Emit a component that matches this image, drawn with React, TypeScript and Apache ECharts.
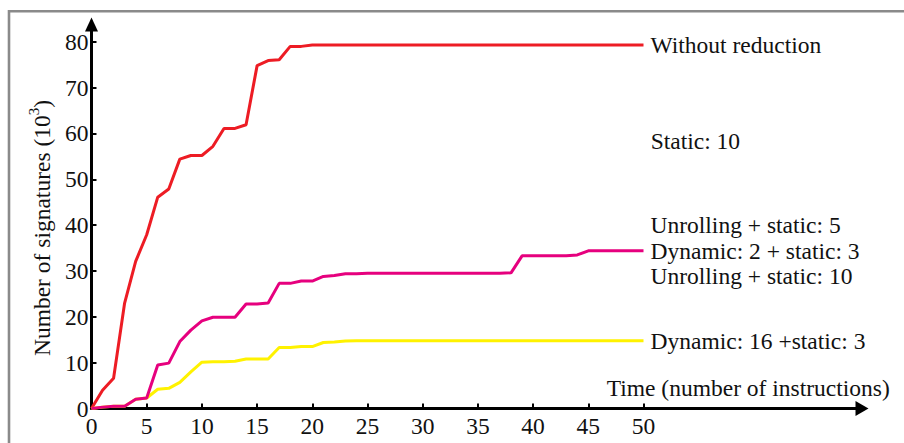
import React, { useEffect, useRef } from 'react';
import * as echarts from 'echarts';

// Time (number of instructions)
const steps = [
  0, 1, 2, 3, 4, 5, 6, 7, 8, 9, 10, 11, 12, 13, 14, 15, 16, 17, 18, 19, 20,
  21, 22, 23, 24, 25, 26, 27, 28, 29, 30, 31, 32, 33, 34, 35, 36, 37, 38, 39, 40,
  41, 42, 43, 44, 45, 46, 47, 48, 49, 50,
];

// Number of signatures (10^3)
const withoutReduction = [
  0, 4.0, 6.6, 23.0, 32.1, 37.9, 46.1, 47.9, 54.4, 55.2, 55.2, 57.2, 61.1, 61.1, 61.9, 74.8, 75.9, 76.1, 79.0, 79.0, 79.3,
  79.3, 79.3, 79.3, 79.3, 79.3, 79.3, 79.3, 79.3, 79.3, 79.3, 79.3, 79.3, 79.3, 79.3, 79.3, 79.3, 79.3, 79.3, 79.3, 79.3,
  79.3, 79.3, 79.3, 79.3, 79.3, 79.3, 79.3, 79.3, 79.3, 79.3,
];
const dynamic2Static3 = [
  0, 0.3, 0.5, 0.5, 2.0, 2.3, 9.5, 9.9, 14.6, 17.1, 19.1, 19.9, 19.9, 19.9, 22.8, 22.8, 23.0, 27.3, 27.3, 27.8, 27.8,
  28.8, 29.0, 29.4, 29.4, 29.5, 29.5, 29.5, 29.5, 29.5, 29.5, 29.5, 29.5, 29.5, 29.5, 29.5, 29.5, 29.5, 29.6, 33.3, 33.3,
  33.3, 33.3, 33.3, 33.5, 34.4, 34.4, 34.4, 34.4, 34.4, 34.4,
];
const dynamic16Static3 = [
  0, 0.3, 0.5, 0.5, 2.0, 2.3, 4.2, 4.4, 5.7, 8.0, 10.1, 10.2, 10.2, 10.3, 10.8, 10.8, 10.8, 13.3, 13.3, 13.5, 13.5,
  14.4, 14.5, 14.7, 14.8, 14.8, 14.8, 14.8, 14.8, 14.8, 14.8, 14.8, 14.8, 14.8, 14.8, 14.8, 14.8, 14.8, 14.8, 14.8, 14.8,
  14.8, 14.8, 14.8, 14.8, 14.8, 14.8, 14.8, 14.8, 14.8, 14.8,
];

const seriesNames = ['Without reduction', 'Dynamic: 2 + static: 3', 'Dynamic: 16 +static: 3'];
const magentaLabelLines = ['Unrolling + static: 5', 'Dynamic: 2 + static: 3', 'Unrolling + static: 10'];
const extraLabel = 'Static: 10';
const yTitleMain = 'Number of signatures (10';
const yTitleSup = '3';
const xTitle = 'Time (number of instructions)';

const Y_MIN = 0;
const Y_MAX = 80;
const Y_STEP = 10;
const X_MIN = 0;
const X_MAX = 50;
const X_STEP = 5;

const FONT = 'Liberation Serif';
const FS = 23.5;
const TXT = '#111111';

export default function App() {
  const ref = useRef<HTMLDivElement>(null);

  useEffect(() => {
    if (!ref.current) return;
    const chart = echarts.init(ref.current, undefined, { renderer: 'svg' });

    const pairs = (vals: number[]) => steps.map((t, i) => [t, vals[i]]);
    const labelStyle = { fontFamily: FONT, fontSize: FS, color: TXT };

    const option: any = {
      animation: false,
      backgroundColor: '#ffffff',
      grid: [
        { left: 91.5, top: 41.8, width: 552, height: 366.7, outerBoundsMode: 'none', containLabel: false },
        { left: 91.5, top: 24.5, right: 42, bottom: 34.5, outerBoundsMode: 'none', containLabel: false },
      ],
      xAxis: [
        {
          type: 'value', gridIndex: 0, min: X_MIN, max: X_MAX, interval: X_STEP,
          axisLine: { show: false },
          axisTick: { show: true, inside: true, length: 5, lineStyle: { color: '#000', width: 2 } },
          axisLabel: { ...labelStyle, margin: 5 },
          splitLine: { show: false },
        },
        {
          type: 'value', gridIndex: 1, min: 0, max: 1,
          axisLine: { show: true, symbol: ['none', 'triangle'], symbolSize: [15, 13], lineStyle: { color: '#000', width: 3 } },
          axisTick: { show: false }, axisLabel: { show: false }, splitLine: { show: false },
        },
      ],
      yAxis: [
        {
          type: 'value', gridIndex: 0, min: Y_MIN, max: Y_MAX, interval: Y_STEP,
          axisLine: { show: false },
          axisTick: { show: true, inside: true, length: 5, lineStyle: { color: '#000', width: 2 } },
          axisLabel: { ...labelStyle, margin: 3 },
          splitLine: { show: false },
        },
        {
          type: 'value', gridIndex: 1, min: 0, max: 1,
          axisLine: { show: true, symbol: ['none', 'triangle'], symbolSize: [13, 14], lineStyle: { color: '#000', width: 3 } },
          axisTick: { show: false }, axisLabel: { show: false }, splitLine: { show: false },
        },
      ],
      series: [
        {
          name: seriesNames[0], type: 'line', xAxisIndex: 0, yAxisIndex: 0,
          data: pairs(withoutReduction), symbol: 'none', clip: false,
          lineStyle: { color: '#ed1c24', width: 3 }, itemStyle: { color: '#ed1c24' },
          endLabel: { show: true, formatter: seriesNames[0], distance: 7, ...labelStyle },
        },
        {
          name: seriesNames[2], type: 'line', xAxisIndex: 0, yAxisIndex: 0,
          data: pairs(dynamic16Static3), symbol: 'none', clip: false,
          lineStyle: { color: '#fff200', width: 3 }, itemStyle: { color: '#fff200' },
          endLabel: { show: true, formatter: seriesNames[2], distance: 7, ...labelStyle },
        },
        {
          name: seriesNames[1], type: 'line', xAxisIndex: 0, yAxisIndex: 0,
          data: pairs(dynamic2Static3), symbol: 'none', clip: false,
          lineStyle: { color: '#e6007e', width: 3 }, itemStyle: { color: '#e6007e' },
          endLabel: {
            show: true, formatter: magentaLabelLines.join('\n'), distance: 7,
            lineHeight: 25.5, ...labelStyle,
          },
        },
      ],
      graphic: [
        {
          type: 'rect', silent: true, z: -10,
          shape: { x: 9, y: 11.2, width: 920, height: 460 },
          style: { fill: 'none', stroke: '#8a8a8a', lineWidth: 2.6 },
        },
        {
          type: 'text', x: 650.7, y: 141,
          style: { text: extraLabel, fill: TXT, fontFamily: FONT, fontSize: FS, verticalAlign: 'middle', align: 'left' },
        },
        {
          type: 'text', x: 606.7, y: 388,
          style: { text: xTitle, fill: TXT, fontFamily: FONT, fontSize: FS, verticalAlign: 'middle', align: 'left' },
        },
        {
          type: 'text', x: 40, y: 228, rotation: Math.PI / 2,
          style: {
            text: `{m|${yTitleMain}}{s|${yTitleSup}}{m|)}`,
            align: 'center', verticalAlign: 'middle',
            rich: {
              m: { fontFamily: FONT, fontSize: FS, fill: TXT, color: TXT, lineHeight: 28, verticalAlign: 'bottom' },
              s: { fontFamily: FONT, fontSize: 15, fill: TXT, color: TXT, lineHeight: 28, verticalAlign: 'top' },
            },
          },
        },
      ],
    };

    chart.setOption(option);
    return () => chart.dispose();
  }, []);

  return <div ref={ref} style={{ position: 'fixed', left: 0, top: 0, width: 904, height: 443 }} />;
}
